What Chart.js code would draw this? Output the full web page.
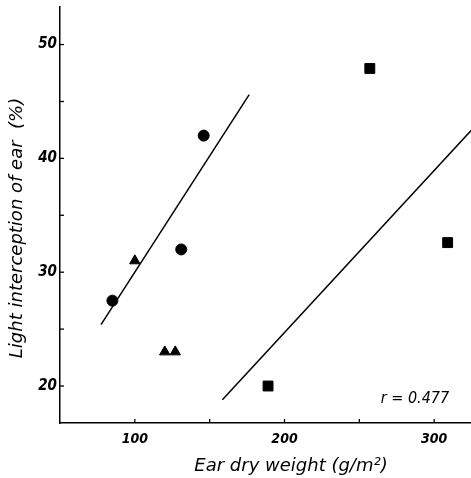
<!DOCTYPE html>
<html>
<head>
<meta charset="utf-8">
<script src="https://cdn.jsdelivr.net/npm/chart.js@4"></script>
<style>
  html, body { margin: 0; padding: 0; background: #fff; }
  #wrap { width: 471px; height: 478px; }
</style>
</head>
<body>
<div id="wrap"><canvas id="earChart" width="471" height="478"></canvas></div>
<script>
// data
const circleX = [85, 131, 146];
const circleY = [27.5, 32.0, 42.0];
const triangleX = [100, 120, 127];
const triangleY = [31.0, 23.0, 23.0];
const squareX = [189, 257, 309];
const squareY = [20.0, 47.9, 32.6];
const fitLeftX = [77.4, 176.4];
const fitLeftY = [25.4, 45.6];
const fitRightX = [158.5, 330];
const fitRightY = [18.8, 43.2];
const xTicks = [100, 200, 300];
const xMinor = [100, 150, 200, 250, 300];
const yTicks = [20, 30, 40, 50];
const yMinor = [20, 25, 30, 35, 40, 45, 50];
const rText = 'r = 0.477';

const pts = (xs, ys) => xs.map((x, i) => ({ x: x, y: ys[i] }));

// tick marks point inward, plus titles and r label
const decor = {
    id: 'decor',
    afterDraw(chart) {
        const ctx = chart.ctx;
        const xs = chart.scales.x, ys = chart.scales.y;
        const area = chart.chartArea;
        ctx.save();
        ctx.strokeStyle = '#000';
        ctx.lineWidth = 1.3;
        yMinor.forEach(v => {
            const py = ys.getPixelForValue(v);
            ctx.beginPath();
            ctx.moveTo(area.left, py);
            ctx.lineTo(area.left + 4, py);
            ctx.stroke();
        });
        xMinor.forEach(v => {
            const px = xs.getPixelForValue(v);
            ctx.beginPath();
            ctx.moveTo(px, area.bottom);
            ctx.lineTo(px, area.bottom - 4);
            ctx.stroke();
        });
        ctx.fillStyle = '#000';
        ctx.font = 'italic 18px "DejaVu Sans", sans-serif';
        ctx.textAlign = 'center';
        ctx.textBaseline = 'middle';
        ctx.fillText('Ear dry weight (g/m²)', 291, 466);
        ctx.save();
        ctx.translate(17, 228);
        ctx.rotate(-Math.PI / 2);
        ctx.fillText('Light interception of ear  (%)', 0, 0);
        ctx.restore();
        ctx.font = 'italic 16px "DejaVu Sans Condensed", "DejaVu Sans", sans-serif';
        ctx.fillText(rText, 415, 399);
        ctx.restore();
    }
};

const ctx = document.getElementById('earChart').getContext('2d');
new Chart(ctx, {
    type: 'scatter',
    data: {
        datasets: [
            {
                data: pts(circleX, circleY),
                pointStyle: 'circle',
                pointRadius: 5.5,
                backgroundColor: '#000',
                borderColor: '#000'
            },
            {
                data: pts(triangleX, triangleY),
                pointStyle: 'triangle',
                pointRadius: 6,
                backgroundColor: '#000',
                borderColor: '#000'
            },
            {
                data: pts(squareX, squareY),
                pointStyle: 'rect',
                pointRadius: 7,
                backgroundColor: '#000',
                borderColor: '#000'
            },
            {
                data: pts(fitLeftX, fitLeftY),
                showLine: true,
                pointRadius: 0,
                borderColor: '#000',
                borderWidth: 1.5
            },
            {
                data: pts(fitRightX, fitRightY),
                showLine: true,
                pointRadius: 0,
                borderColor: '#000',
                borderWidth: 1.5
            }
        ]
    },
    options: {
        responsive: false,
        animation: false,
        layout: { autoPadding: false, padding: { top: 7, right: 0, left: 0, bottom: 0 } },
        plugins: {
            legend: { display: false },
            tooltip: { enabled: false }
        },
        scales: {
            x: {
                type: 'linear',
                min: 50,
                max: 324.6,
                afterBuildTicks: s => { s.ticks = xTicks.map(v => ({ value: v })); },
                afterFit: s => { s.height = 55; s.paddingLeft = 0; s.paddingRight = 0; },
                grid: { drawOnChartArea: false, drawTicks: false },
                border: { color: '#000', width: 1.5 },
                ticks: {
                    color: '#000',
                    padding: 8,
                    maxRotation: 0,
                    font: { family: '"DejaVu Sans Condensed", "DejaVu Sans", sans-serif', size: 14, style: 'italic', weight: 'bold' }
                }
            },
            y: {
                type: 'linear',
                min: 16.75,
                max: 53.3,
                afterBuildTicks: s => { s.ticks = yTicks.map(v => ({ value: v })); },
                afterFit: s => { s.width = 60; s.paddingTop = 0; s.paddingBottom = 0; },
                grid: { drawOnChartArea: false, drawTicks: false },
                border: { color: '#000', width: 1.5 },
                ticks: {
                    color: '#000',
                    padding: 3,
                    font: { family: '"DejaVu Sans Condensed", "DejaVu Sans", sans-serif', size: 15, style: 'italic', weight: 'bold' }
                }
            }
        }
    },
    plugins: [decor]
});
</script>
</body>
</html>
